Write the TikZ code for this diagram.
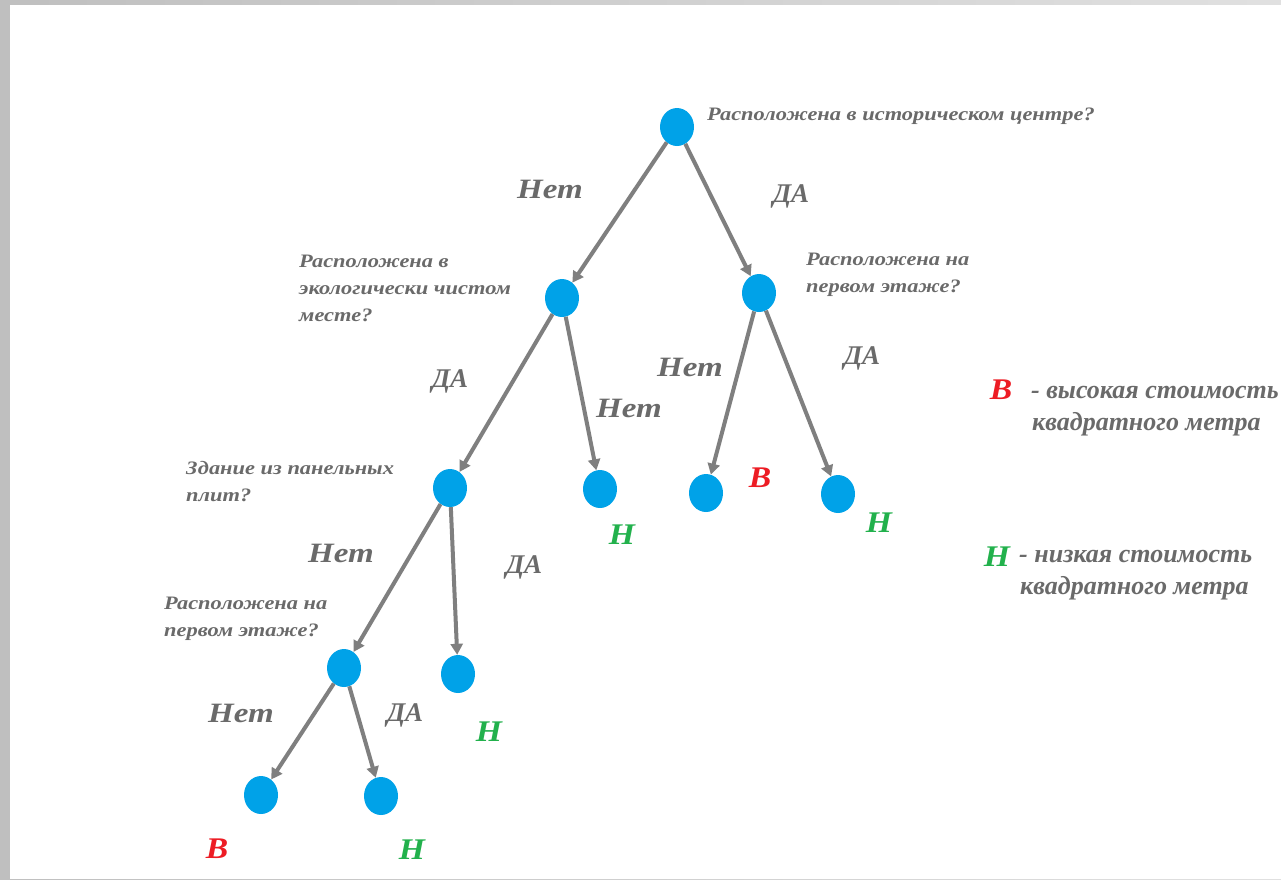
\documentclass[tikz,border=0pt]{standalone}
\usepackage{fontspec}
\setmainfont{Liberation Serif}
\newfontfamily\wideserif[FakeStretch=1.18]{Liberation Serif}
\newfontfamily\leafserif[FakeStretch=1.12]{Liberation Serif}
\usetikzlibrary{shapes.geometric,arrows.meta}
\definecolor{nodeblue}{HTML}{00A2E8}
\definecolor{edgegray}{HTML}{7F7F7F}
\definecolor{txtgray}{HTML}{6A6A6A}
\definecolor{pred}{HTML}{ED1C24}
\definecolor{pgreen}{HTML}{22B14C}
\tikzset{
  dot/.style={ellipse,fill=nodeblue,draw=none,minimum width=34pt,minimum height=38pt,inner sep=0pt},
  edge/.style={draw=edgegray,line width=4pt,-{Triangle[length=11pt,width=12pt]}},
  question/.style={text=txtgray,font=\wideserif\fontsize{19}{26.7}\selectfont\bfseries\itshape,align=left,anchor=north west,inner sep=0pt},
  answer/.style={text=txtgray,font=\fontsize{27}{30}\selectfont\bfseries\itshape,inner sep=0pt},
  answerw/.style={text=txtgray,font=\wideserif\fontsize{28}{30}\selectfont\bfseries\itshape,inner sep=0pt},
  leaf/.style={font=\leafserif\fontsize{30}{32}\selectfont\bfseries\itshape,inner sep=0pt},
  legend/.style={text=txtgray,font=\fontsize{26}{32}\selectfont\bfseries\itshape,align=left,anchor=west,inner sep=0pt}
}
\begin{document}
\begin{tikzpicture}[x=1pt,y=-1pt]
\useasboundingbox (0,0) rectangle (1281,879);
\shade[left color=black!25,right color=black!12] (0,0) rectangle (1281,879);
\fill[white] (10,5) rectangle (1281,879);
% nodes
\node[dot] (n1) at (677,127) {};
\node[dot] (n2) at (562,298) {};
\node[dot] (n3) at (759,293) {};
\node[dot] (n4) at (450,488) {};
\node[dot] (n5) at (600,489) {};
\node[dot] (n6) at (706,493) {};
\node[dot] (n7) at (838,494) {};
\node[dot] (n8) at (344,668) {};
\node[dot] (n9) at (458,674) {};
\node[dot] (n10) at (261,795) {};
\node[dot] (n11) at (381,796) {};
% edges
\draw[edge] (n1) -- (n2);
\draw[edge] (n1) -- (n3);
\draw[edge] (n2) -- (n4);
\draw[edge] (n2) -- (n5);
\draw[edge] (n3) -- (n6);
\draw[edge] (n3) -- (n7);
\draw[edge] (n4) -- (n8);
\draw[edge] (n4) -- (n9);
\draw[edge] (n8) -- (n10);
\draw[edge] (n8) -- (n11);
% questions
\node[question] (q1) at (707,108) {Расположена в историческом центре?};
\node[question] (q2) at (299,255) {Расположена в\\экологически чистом\\месте?};
\node[question] (q3) at (806,253) {Расположена на\\первом этаже?};
\node[question] (q4) at (186,461) {Здание из панельных\\плит?};
\node[question] (q5) at (164,597) {Расположена на\\первом этаже?};
% edge labels
\node[answerw] (a1) at (550,189) {Нет};
\node[answer] (a2) at (791,196) {ДА};
\node[answer] (a3) at (450,381) {ДА};
\node[answerw] (a4) at (629,408) {Нет};
\node[answerw] (a5) at (690,367) {Нет};
\node[answer] (a6) at (862,358) {ДА};
\node[answerw] (a7) at (341,553) {Нет};
\node[answer] (a8) at (524,567) {ДА};
\node[answerw] (a9) at (241,713) {Нет};
\node[answer] (a10) at (405,715) {ДА};
% leaf labels
\node[leaf,text=pred] (l1) at (760,478) {В};
\node[leaf,text=pgreen] (l2) at (622,535) {Н};
\node[leaf,text=pgreen] (l3) at (879,523) {Н};
\node[leaf,text=pgreen] (l4) at (489,732) {Н};
\node[leaf,text=pred] (l5) at (217,849) {В};
\node[leaf,text=pgreen] (l6) at (412,850) {Н};
% legend
\node[leaf,text=pred] (kb) at (1001,390) {В};
\node[legend] (kbt) at (1031,411) {- высокая стоимость\\\hspace*{1pt}квадратного метра};
\node[leaf,text=pgreen] (kh) at (997,557) {Н};
\node[legend] (kht) at (1019,575) {- низкая стоимость\\\hspace*{1pt}квадратного метра};
\end{tikzpicture}
\end{document}
